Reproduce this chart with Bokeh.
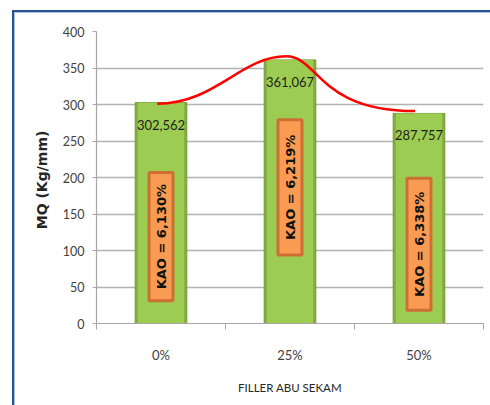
import math
from bokeh.plotting import figure
from bokeh.models import ColumnDataSource, FixedTicker, Range1d
from bokeh.core.properties import value
from bokeh.embed import file_html
from bokeh.resources import INLINE

# ---- data ----
categories = ["0%", "25%", "50%"]
mq_values = [302.562, 361.067, 287.757]
value_labels = ["302,562", "361,067", "287,757"]
kao_labels = ["KAO = 6,130%", "KAO = 6,219%", "KAO = 6,338%"]
curve_values = [301, 366, 291]
y_ticks = [0, 50, 100, 150, 200, 250, 300, 350, 400]

# ---- layout constants ----
x_pos = [i + 0.5 for i in range(len(categories))]
kao_box_bottom = [31, 94, 18]
kao_box_top = [207, 279, 199]

FONT = "Lato"

frame_css = ("linear-gradient(#2b5390,#2b5390) 12px 10px / 478px 2px no-repeat, "
             "linear-gradient(#a9bfdc,#a9bfdc) 14px 12px / 476px 1px no-repeat, "
             "linear-gradient(#2b5390,#2b5390) 12px 10px / 2px 395px no-repeat, "
             "linear-gradient(#a9bfdc,#a9bfdc) 14px 12px / 1px 393px no-repeat, "
             "#ffffff")

p = figure(width=490, height=405, x_range=Range1d(0, len(categories)),
           y_range=Range1d(0, 400), output_backend="svg", toolbar_location=None,
           min_border_left=96, min_border_right=7, min_border_top=31,
           min_border_bottom=82, styles={"background": frame_css})
p.background_fill_color = "white"
p.border_fill_color = None
p.outline_line_color = None

# grid
p.xgrid.visible = False
p.ygrid.grid_line_color = "#b2b2b2"
p.ygrid.grid_line_width = 1.6
p.ygrid.ticker = FixedTicker(ticks=y_ticks)

# y axis
ya = p.yaxis[0]
ya.ticker = FixedTicker(ticks=y_ticks)
ya.axis_line_color = "#a6a6a6"
ya.axis_line_width = 1.2
ya.major_tick_line_color = "#a6a6a6"
ya.major_tick_out = 4
ya.major_tick_in = 0
ya.minor_tick_line_color = None
ya.major_label_standoff = 8
ya.major_label_text_font = FONT
ya.major_label_text_font_size = "12.5px"
ya.major_label_text_color = "#404040"
ya.axis_label = "MQ  (Kg/mm)"
ya.axis_label_text_font = "DejaVu Sans"
ya.axis_label_text_font_style = "bold"
ya.axis_label_text_font_size = "14px"
ya.axis_label_text_color = "#262626"
ya.axis_label_standoff = 10

# x axis
xa = p.xaxis[0]
xa.ticker = FixedTicker(ticks=x_pos, minor_ticks=list(range(len(categories) + 1)))
xa.major_label_overrides = {x: c for x, c in zip(x_pos, categories)}
xa.axis_line_color = "#a6a6a6"
xa.axis_line_width = 1.2
xa.major_tick_line_color = None
xa.major_tick_out = 0
xa.major_tick_in = 0
xa.minor_tick_line_color = "#a6a6a6"
xa.minor_tick_out = 6
xa.minor_tick_in = 0
xa.major_label_standoff = 17
xa.major_label_text_font = FONT
xa.major_label_text_font_size = "13px"
xa.major_label_text_color = "#404040"
xa.axis_label = "FILLER ABU SEKAM"
xa.axis_label_text_font = FONT
xa.axis_label_text_font_style = "normal"
xa.axis_label_text_font_size = "11.5px"
xa.axis_label_text_color = "#262626"
xa.axis_label_standoff = 15

src = ColumnDataSource(dict(x=x_pos, top=mq_values, lab=value_labels,
                            kao=kao_labels,
                            kc=[(b + t) / 2 for b, t in zip(kao_box_bottom, kao_box_top)]))

# bars (darker rim + lighter face)
p.vbar(x="x", top="top", width=0.40, bottom=0, source=src,
       fill_color="#82ad3f", line_color="#739c36", line_width=1)
p.vbar(x="x", top="top", width=0.36, bottom=0, source=src,
       fill_color="#9ccd52", line_color=None)

# value labels
p.text(x="x", y="top", text="lab", source=src, y_offset=22,
       text_align="center", text_baseline="middle",
       text_font=value(FONT), text_font_size="13px",
       text_color="#1e1e1e")

# KAO boxes
p.quad(left=[x - 0.093 for x in x_pos], right=[x + 0.093 for x in x_pos],
       bottom=kao_box_bottom, top=kao_box_top,
       fill_color="#f99b52", line_color="#cc6f34", line_width=3)
p.text(x="x", y="kc", text="kao", source=src, angle=math.pi / 2,
       text_align="center", text_baseline="middle",
       text_font=value("DejaVu Sans"), text_font_style="bold",
       text_font_size="13px", text_color="#111111")

# smooth red curve through the curve values (bezier segments)
cx = [x - 0.03 for x in x_pos]
x0s, y0s, x1s, y1s, c0x, c0y, c1x, c1y = [], [], [], [], [], [], [], []
for i in range(len(cx) - 1):
    dx = cx[i + 1] - cx[i]
    x0s.append(cx[i]); y0s.append(curve_values[i])
    x1s.append(cx[i + 1]); y1s.append(curve_values[i + 1])
    if i == 0:
        c0x.append(cx[i] + 0.45 * dx); c0y.append(curve_values[i])
        c1x.append(cx[i + 1] - 0.35 * dx); c1y.append(curve_values[i + 1])
    else:
        c0x.append(cx[i] + 0.25 * dx); c0y.append(curve_values[i])
        c1x.append(cx[i + 1] - 0.75 * dx); c1y.append(curve_values[i + 1])
p.bezier(x0=x0s, y0=y0s, x1=x1s, y1=y1s, cx0=c0x, cy0=c0y, cx1=c1x, cy1=c1y,
         line_color="#ff0000", line_width=2.5)

open("out.html", "w").write(file_html(p, INLINE))
